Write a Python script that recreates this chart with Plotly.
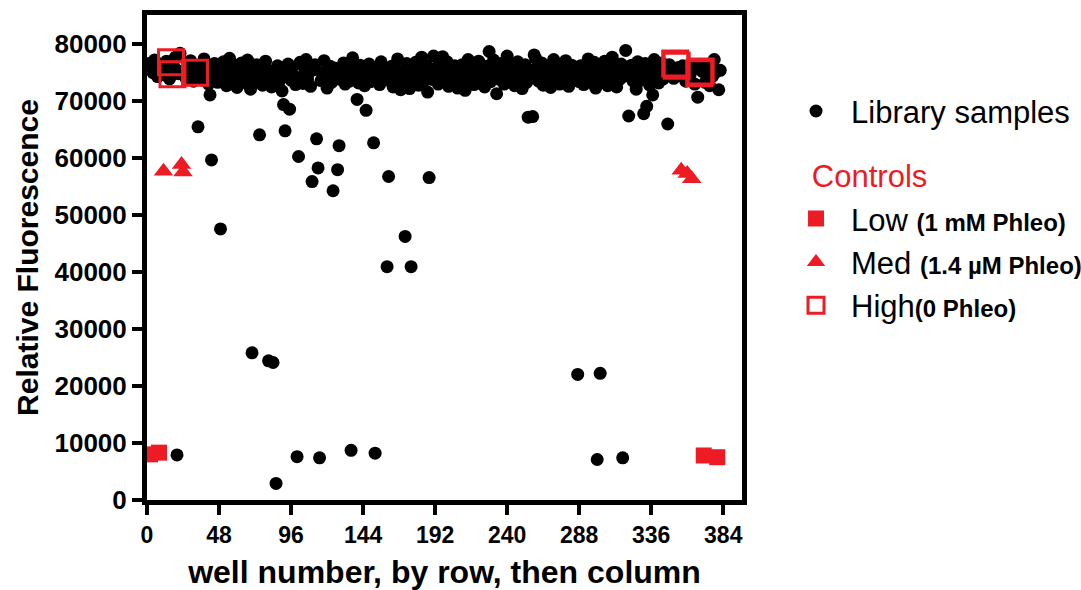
import plotly.graph_objects as go

RED = "#ED1C24"
FONT = "Liberation Sans, Arial, sans-serif"

# Library sample fluorescence, one value per well (1..384); None = control well / empty
library_y = [
    76500, None, 75600, 74900, 77100, 75800, 74200, None, 76300, 75000, None, 74500, 76900, 75300, 73800, None,
    None, 75900, 77600, 7900, 74700, 78300, None, None, 75400, 73900, 76200, 74800, 77000, 75500, 73400, None,
    74600, 65400, 76100, 75200, 73600, 77300, 74900, 75800, 72900, 71000, 59600, 74300, 76500, 75100, 73200, 75700,
    47500, 74000, 76800, 75400, 72600, 74700, 77400, 75900, 73500, 74800, 76200, 72300, 75000, 73700, 76600, 74400,
    75300, 73100, 77100, 74900, 72000, 25800, 75600, 74100, 76300, 73400, 64000, 75800, 72700, 74600, 76900, 73900,
    24400, 75200, 72400, 24100, 74700, 2900, 76100, 73300, 75500, 71700, 69300, 64700, 74200, 76400, 68500, 73600,
    75900, 74300, 72800, 7600, 60200, 76700, 74100, 73000, 75600, 77200, 73800, 74900, 72500, 55800, 75400, 76300,
    63300, 58200, 7400, 73500, 74800, 77000, 75100, 72200, 74400, 76000, 73200, 54200, 75700, 74600, 57900, 62100,
    73700, 75300, 76600, 72900, 74700, 75900, 73400, 8700, 77500, 74000, 75500, 70200, 73100, 76200, 74500, 75800,
    72600, 68300, 74900, 76400, 73300, 75100, 62600, 8200, 74200, 75700, 72800, 76800, 74500, 73600, 75300, 40900,
    56700, 74100, 76000, 72400, 75600, 73900, 77300, 74700, 71900, 75200, 73500, 46200, 76500, 74400, 72100, 40900,
    75000, 73800, 76700, 74300, 72700, 75900, 77600, 73200, 74800, 76200, 71500, 56500, 75400, 73700, 77800, 74600,
    75800, 72900, 76400, 74100, 77700, 73400, 75300, 76800, 72500, 74900, 75700, 73000, 76100, 74400, 72200, 75600,
    73800, 76300, 74700, 71800, 75100, 77200, 73600, 74500, 76600, 72800, 75400, 74000, 76900, 73100, 75700, 74300,
    72400, 76000, 74800, 78600, 73300, 75500, 77100, 74200, 71200, 75900, 73700, 76500, 74600, 72900, 75200, 77800,
    74000, 73500, 76200, 75000, 72600, 74700, 76800, 73900, 75600, 72100, 74400, 76300, 73200, 67100, 75300, 74100,
    67200, 78000, 77400, 75800, 73400, 74900, 76600, 72700, 75100, 73800, 76000, 74300, 72300, 75700, 77200, 73600,
    74800, 76400, 72900, 75400, 73100, 74600, 77000, 75200, 72500, 74000, 76200, 73700, 75900, 74400, 22000, 73300,
    76100, 74700, 72800, 75500, 73900, 77300, 74200, 75800, 73000, 76700, 72200, 7100, 74500, 22200, 75600, 73500,
    76900, 74000, 72600, 75300, 73200, 77600, 74800, 76000, 72400, 75000, 73700, 76400, 7400, 74300, 78800, 75900,
    67300, 74600, 76200, 73400, 75400, 72000, 76800, 74100, 75700, 73600, 67700, 76500, 69000, 74900, 72700, 75500,
    71000, 77200, 74400, 76000, 73100, 75200, 76600, 73800, 75900, 74500, 65900, 76300, 74700, 75600, 73900, None,
    None, 75800, 74400, None, 76100, 75300, 73400, None, 76000, 74600, None, 75500, 72900, 76300, 70600, None,
    None, 75100, None, 73200, 76000, 74800, 72600, 75700, 74300, 77200, 75000, None, 71900, 75300, None, None,
]
library_x = list(range(1, len(library_y) + 1))

# Controls
low_x = [2, 8, 371, 380]
low_y = [8000, 8300, 7800, 7500]
med_x = [11, 23, 24, 356, 360, 363]
med_y = [57600, 58800, 57500, 57800, 57200, 56300]
high_x = [16, 17, 32, 352, 353, 368, 369]
high_y = [76700, 74600, 74900, 76500, 76100, 74800, 75100]

x_ticks = [0, 48, 96, 144, 192, 240, 288, 336, 384]
y_ticks = [0, 10000, 20000, 30000, 40000, 50000, 60000, 70000, 80000]

fig = go.Figure()
fig.add_trace(go.Scatter(
    x=library_x, y=library_y, mode="markers", name="Library samples",
    legendgroup="lib", cliponaxis=False,
    marker=dict(symbol="circle", size=13, color="black"),
))
fig.add_trace(go.Scatter(
    x=low_x, y=low_y, mode="markers",
    name="Low <span style='font-size:24px'><b>(1 mM Phleo)</b></span>",
    legendgroup="ctrl", cliponaxis=False,
    legendgrouptitle=dict(text="\u00a0\u00a0\u00a0Controls",
                          font=dict(color=RED, size=31, family=FONT)),
    marker=dict(symbol="square", size=16, color=RED),
))
fig.add_trace(go.Scatter(
    x=med_x, y=med_y, mode="markers",
    name="Med <span style='font-size:24px'><b>(1.4 µM Phleo)</b></span>",
    legendgroup="ctrl", cliponaxis=False,
    marker=dict(symbol="triangle-up", size=17, color=RED),
))
fig.add_trace(go.Scatter(
    x=high_x, y=high_y, mode="markers",
    name="High<span style='font-size:24px'><b>(0 Phleo)</b></span>",
    legendgroup="ctrl", cliponaxis=False,
    marker=dict(symbol="square-open", size=25, color=RED, line=dict(width=3, color=RED)),
))

axis_common = dict(
    showline=True, linewidth=5, linecolor="black", mirror=True,
    ticks="outside", ticklen=10, tickwidth=4, tickcolor="black",
    showgrid=False, zeroline=False, automargin=False,
)
fig.update_xaxes(
    range=[0, 396.5], tickvals=x_ticks, ticktext=[str(v) for v in x_ticks],
    tickfont=dict(family=FONT, size=23, color="black", weight="bold"),
    title=dict(text="well number, by row, then column", standoff=20,
               font=dict(family=FONT, size=32, color="black", weight="bold")),
    **axis_common,
)
fig.update_yaxes(
    range=[0, 85000], tickvals=y_ticks, ticktext=[str(v) for v in y_ticks],
    tickfont=dict(family=FONT, size=26, color="black", weight="bold"),
    title=dict(text="Relative Fluorescence", standoff=8,
               font=dict(family=FONT, size=30, color="black", weight="bold")),
    **axis_common,
)
fig.update_layout(
    width=1081, height=590,
    margin=dict(l=147, r=339, t=15, b=90),
    paper_bgcolor="white", plot_bgcolor="white",
    font=dict(family=FONT, color="black"),
    legend=dict(
        xref="container", yref="container",
        x=0.7225, y=0.857, xanchor="left", yanchor="top",
        font=dict(family=FONT, size=31, color="black"),
        traceorder="grouped", tracegroupgap=21, itemwidth=60,
        bgcolor="rgba(0,0,0,0)",
    ),
)
fig.write_html("out.html", config={"displayModeBar": False},
               post_script="document.body.style.margin='0';")
